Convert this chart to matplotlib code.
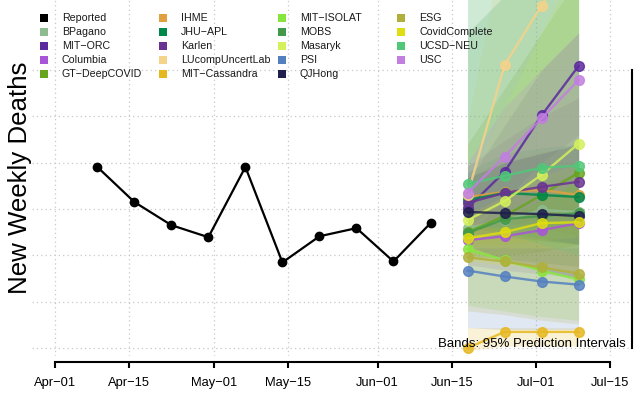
import matplotlib
matplotlib.use('Agg')
import matplotlib.pyplot as plt
from matplotlib.patches import Rectangle

plt.rcParams['font.family'] = ['Liberation Sans', 'DejaVu Sans']

# days since Apr-01
tick_days = [0, 14, 30, 44, 61, 75, 91, 105]
tick_labels = ['Apr\u221201', 'Apr\u221215', 'May\u221201', 'May\u221215',
               'Jun\u221201', 'Jun\u221215', 'Jul\u221201', 'Jul\u221215']
grid_levels = [0, 250, 500, 750, 1000, 1250, 1500]

reported_days = [8, 15, 22, 29, 36, 43, 50, 57, 64, 71]
reported = [977, 788, 663, 598, 977, 462, 603, 647, 467, 674]

forecast_days = [78, 85, 92, 99]

models = ['BPagano', 'MIT\u2212ORC', 'Columbia', 'GT\u2212DeepCOVID',
          'IHME', 'JHU\u2212APL', 'Karlen', 'LUcompUncertLab', 'MIT\u2212Cassandra',
          'MIT\u2212ISOLAT', 'MOBS', 'Masaryk', 'PSI', 'QJHong',
          'ESG', 'CovidComplete', 'UCSD\u2212NEU', 'USC']
colors = ['#8fbc8f', '#5b2a9e', '#a855d8', '#66a61e',
          '#e0a040', '#00884a', '#6a3393', '#f5d38a', '#e6b820',
          '#86e63c', '#43994a', '#d4f05a', '#5580c0', '#1f1f4d',
          '#b0b03c', '#dede10', '#50c878', '#c27fe0']

point = [
    [647, 690, 745, 734],
    [755, 951, 1255, 1522],
    [582, 603, 636, 674],
    [625, 712, 826, 946],
    [815, 842, 853, 826],
    [799, 837, 826, 815],
    [783, 837, 870, 897],
    [826, 1527, 1848, 2158],
    [0, 87, 87, 87],
    [533, 473, 418, 370],
    [620, 696, 712, 728],
    [690, 793, 935, 1103],
    [418, 386, 359, 342],
    [734, 728, 723, 712],
    [489, 467, 435, 402],
    [592, 625, 674, 679],
    [886, 929, 973, 984],
    [837, 1033, 1239, 1446],
]
lower = [
    [560, 560, 580, 560],
    [650, 800, 1000, 1150],
    [450, 420, 400, 380],
    [480, 500, 520, 560],
    [700, 680, 650, 600],
    [650, 620, 590, 560],
    [620, 600, 580, 560],
    [600, 800, 900, 1000],
    [-15, 10, 10, 10],
    [230, 200, 170, 150],
    [500, 480, 460, 440],
    [560, 560, 580, 600],
    [110, 100, 100, 100],
    [550, 480, 420, 380],
    [200, 180, 150, 130],
    [470, 450, 430, 400],
    [700, 620, 560, 500],
    [650, 700, 800, 900],
]
upper = [
    [2300, 2400, 2500, 2600],
    [900, 1200, 1500, 1700],
    [720, 800, 880, 950],
    [1100, 1400, 1700, 2000],
    [940, 1010, 1060, 1080],
    [950, 1050, 1080, 1100],
    [980, 1120, 1250, 1350],
    [1200, 2200, 2600, 3000],
    [110, 110, 110, 110],
    [680, 640, 600, 560],
    [1700, 1900, 2100, 2300],
    [900, 1300, 1700, 2100],
    [540, 540, 540, 540],
    [920, 1000, 1050, 1100],
    [640, 660, 680, 700],
    [720, 820, 920, 1000],
    [1900, 2100, 2300, 2500],
    [1000, 1300, 1500, 1700],
]

fig = plt.figure(figsize=(6.34, 4), dpi=100)
ax = fig.add_axes([32 / 634, 44 / 400, 600 / 634, 356 / 400])
ax.set_xlim(-4.35, 109.1)
ax.set_ylim(-43, 1878)

for d in tick_days:
    ax.axvline(d, color='#c8c8c8', lw=0.9, ls=(0, (1, 2.5)), zorder=0)
for g in grid_levels:
    ax.axhline(g, color='#c8c8c8', lw=0.9, ls=(0, (1, 2.5)), zorder=0)

for i in range(len(models)):
    ax.fill_between(forecast_days, lower[i], upper[i], color=colors[i],
                    alpha=0.18, lw=0, zorder=1)
for i in range(len(models)):
    ax.plot(forecast_days, point[i], color=colors[i], lw=1.7, marker='o',
            ms=7, alpha=0.85, zorder=2)

ax.plot(reported_days, reported, color='black', lw=1.6, marker='o', ms=6, zorder=3)

ax.spines['top'].set_visible(False)
ax.spines['left'].set_visible(False)
ax.spines['bottom'].set_linewidth(1.5)
ax.spines['bottom'].set_bounds(tick_days[0], tick_days[-1])
ax.spines['bottom'].set_position(('outward', 4))
ax.spines['right'].set_linewidth(1.5)
ax.spines['right'].set_bounds(grid_levels[0], grid_levels[-1])
ax.set_yticks([])
ax.set_xticks(tick_days)
ax.set_xticklabels(tick_labels, fontsize=9.3)
ax.tick_params(axis='x', length=4, width=1.5, pad=7)

ax.text(0.99, 0.035, 'Bands: 95% Prediction Intervals', transform=ax.transAxes,
        ha='right', va='center', fontsize=9.5)

fig.text(20 / 634, 1 - 178 / 400, 'New Weekly Deaths', rotation=90,
         ha='center', va='center', fontsize=18.6)

# legend drawn by hand: 4 columns of 5
legend_names = ['Reported'] + models
legend_colors = ['black'] + colors
for i, (name, c) in enumerate(zip(legend_names, legend_colors)):
    col, row = i // 5, i % 5
    x0 = (40 + col * 119) / 634
    y0 = 1 - (18 + row * 14) / 400
    fig.add_artist(Rectangle((x0, y0 - 4 / 400), 8 / 634, 8 / 400,
                             transform=fig.transFigure, color=c, lw=0))
    fig.text(x0 + 22 / 634, y0, name, fontsize=7.7, va='center', color='#1a1a1a')

fig.savefig('out.png', dpi=100)
